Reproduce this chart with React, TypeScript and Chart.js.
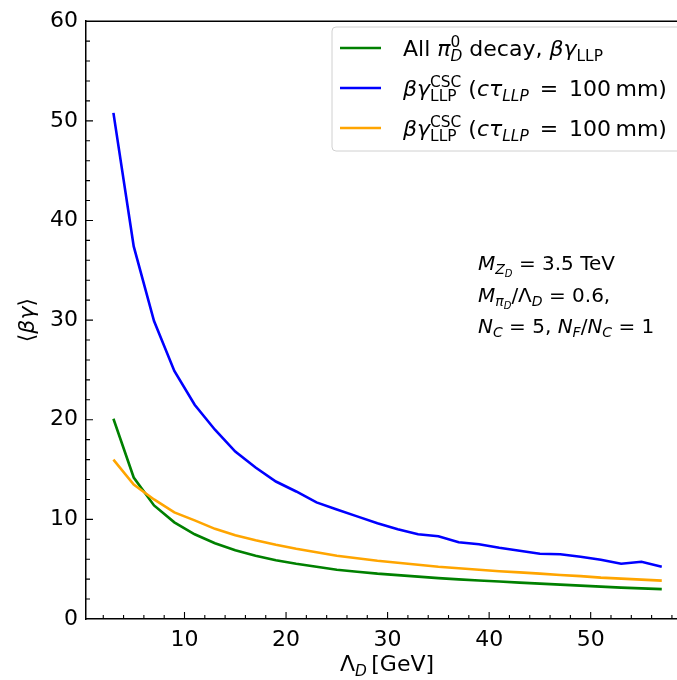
import React, { useEffect, useRef } from "react";
import { Chart, registerables } from "chart.js";

Chart.register(...registerables);

const LAMBDA_D = [3, 5, 7, 9, 11, 13, 15, 17, 19, 21, 23, 25, 27, 29, 31, 33, 35, 37, 39, 41, 43, 45, 47, 49, 51, 53, 55, 57];
const ALL_DECAY = [20.1, 14.2, 11.4, 9.7, 8.5, 7.6, 6.9, 6.35, 5.9, 5.55, 5.25, 4.95, 4.75, 4.55, 4.4, 4.25, 4.1, 3.98, 3.87, 3.77, 3.65, 3.55, 3.45, 3.35, 3.25, 3.15, 3.07, 3.0];
const CSC_BLUE = [50.8, 37.4, 29.9, 24.9, 21.5, 19.0, 16.8, 15.2, 13.8, 12.8, 11.7, 11.0, 10.3, 9.6, 9.0, 8.5, 8.3, 7.7, 7.5, 7.15, 6.85, 6.55, 6.5, 6.25, 5.95, 5.55, 5.75, 5.25];
const CSC_ORANGE = [16.0, 13.5, 12.0, 10.7, 9.9, 9.05, 8.4, 7.9, 7.45, 7.05, 6.7, 6.35, 6.1, 5.85, 5.65, 5.45, 5.25, 5.1, 4.95, 4.8, 4.68, 4.55, 4.42, 4.3, 4.15, 4.05, 3.95, 3.85];
const X_TICKS = [10, 20, 30, 40, 50];
const Y_TICKS = [0, 10, 20, 30, 40, 50, 60];

const FONT = "'DejaVu Sans'";

type Seg = { t: string; i?: boolean; l?: number; s?: boolean };

function segSize(base: number, l: number) {
  if (l === 0) return base;
  if (Math.abs(l) === 1) return base * 0.7;
  return base * 0.5;
}
function segDy(base: number, l: number) {
  if (l === 0) return 0;
  if (l === -1) return base * 0.22;
  if (l === 1) return -base * 0.42;
  return base * 0.36;
}

function layoutRich(ctx: CanvasRenderingContext2D, segs: Seg[], base: number) {
  let x = 0;
  let prevStart = 0;
  let prevEnd = 0;
  const out: { seg: Seg; x: number }[] = [];
  for (const seg of segs) {
    const l = seg.l ?? 0;
    ctx.font = `${seg.i ? "italic " : ""}${segSize(base, l)}px ${FONT}`;
    const w = ctx.measureText(seg.t).width;
    if (seg.s) {
      out.push({ seg, x: prevStart });
      x = Math.max(prevEnd, prevStart + w);
      prevEnd = x;
    } else {
      out.push({ seg, x });
      prevStart = x;
      x += w;
      prevEnd = x;
    }
  }
  return { items: out, width: x };
}

function drawRich(ctx: CanvasRenderingContext2D, segs: Seg[], x: number, y: number, base: number, align: "left" | "center" = "left") {
  const { items, width } = layoutRich(ctx, segs, base);
  const x0 = align === "center" ? x - width / 2 : x;
  ctx.save();
  ctx.fillStyle = "#000";
  ctx.textBaseline = "alphabetic";
  ctx.textAlign = "left";
  for (const it of items) {
    const l = it.seg.l ?? 0;
    ctx.font = `${it.seg.i ? "italic " : ""}${segSize(base, l)}px ${FONT}`;
    ctx.fillText(it.seg.t, x0 + it.x, y + segDy(base, l));
  }
  ctx.restore();
}

const LEGEND_ITEMS: { color: string; segs: Seg[] }[] = [
  {
    color: "green",
    segs: [
      { t: "All " },
      { t: "π", i: true },
      { t: "D", i: true, l: -1 },
      { t: "0", l: 1, s: true },
      { t: " decay, " },
      { t: "βγ", i: true },
      { t: "LLP", l: -1 },
    ],
  },
  {
    color: "blue",
    segs: [
      { t: "βγ", i: true },
      { t: "LLP", l: -1 },
      { t: "CSC", l: 1, s: true },
      { t: " (" },
      { t: "cτ", i: true },
      { t: "LLP", i: true, l: -1 },
      { t: "\u2002=\u2002100\u2009mm)" },
    ],
  },
  {
    color: "orange",
    segs: [
      { t: "βγ", i: true },
      { t: "LLP", l: -1 },
      { t: "CSC", l: 1, s: true },
      { t: " (" },
      { t: "cτ", i: true },
      { t: "LLP", i: true, l: -1 },
      { t: "\u2002=\u2002100\u2009mm)" },
    ],
  },
];

const ANNOT_LINES: Seg[][] = [
  [{ t: "M", i: true }, { t: "Z", i: true, l: -1 }, { t: "D", i: true, l: -2 }, { t: " = 3.5 TeV" }],
  [{ t: "M", i: true }, { t: "π", i: true, l: -1 }, { t: "D", i: true, l: -2 }, { t: "/Λ" }, { t: "D", i: true, l: -1 }, { t: " = 0.6," }],
  [
    { t: "N", i: true },
    { t: "C", i: true, l: -1 },
    { t: " = 5, " },
    { t: "N", i: true },
    { t: "F", i: true, l: -1 },
    { t: "/" },
    { t: "N", i: true },
    { t: "C", i: true, l: -1 },
    { t: " = 1" },
  ],
];

const decorPlugin = {
  id: "decor",
  afterDraw(chart: any) {
    const ctx: CanvasRenderingContext2D = chart.ctx;
    const area = chart.chartArea;
    const xs = chart.scales.x;
    const ys = chart.scales.y;
    ctx.save();
    // top spine
    ctx.strokeStyle = "#000";
    ctx.lineWidth = 1.5;
    ctx.beginPath();
    ctx.moveTo(area.left, area.top);
    ctx.lineTo(chart.width, area.top);
    ctx.stroke();
    // inward ticks
    ctx.lineWidth = 1.1;
    ctx.beginPath();
    for (let v = 2; v <= 58; v += 2) {
      const px = xs.getPixelForValue(v);
      if (px < area.left || px > area.right) continue;
      const len = v % 10 === 0 ? 7 : 4;
      ctx.moveTo(px, area.bottom);
      ctx.lineTo(px, area.bottom - len);
    }
    for (let v = 2; v < 60; v += 2) {
      const py = ys.getPixelForValue(v);
      const len = v % 10 === 0 ? 7 : 4;
      ctx.moveTo(area.left, py);
      ctx.lineTo(area.left + len, py);
    }
    ctx.stroke();

    // axis titles
    drawRich(ctx, [{ t: "Λ" }, { t: "D", i: true, l: -1 }, { t: "\u2009[GeV]" }], 387, 671, 22, "center");
    ctx.save();
    ctx.translate(34, (area.top + area.bottom) / 2);
    ctx.rotate(-Math.PI / 2);
    drawRich(ctx, [{ t: "⟨" }, { t: "βγ", i: true }, { t: "⟩" }], 0, 0, 22, "center");
    ctx.restore();

    // legend
    const lx = 332;
    const ly = 27;
    const lw = 360;
    const lh = 124;
    ctx.fillStyle = "rgba(255,255,255,0.85)";
    ctx.strokeStyle = "#d0d0d0";
    ctx.lineWidth = 1;
    ctx.beginPath();
    const r = 4;
    ctx.moveTo(lx + r, ly);
    ctx.lineTo(lx + lw - r, ly);
    ctx.arcTo(lx + lw, ly, lx + lw, ly + r, r);
    ctx.lineTo(lx + lw, ly + lh - r);
    ctx.arcTo(lx + lw, ly + lh, lx + lw - r, ly + lh, r);
    ctx.lineTo(lx + r, ly + lh);
    ctx.arcTo(lx, ly + lh, lx, ly + lh - r, r);
    ctx.lineTo(lx, ly + r);
    ctx.arcTo(lx, ly, lx + r, ly, r);
    ctx.closePath();
    ctx.fill();
    ctx.stroke();
    LEGEND_ITEMS.forEach((item, k) => {
      const cy = 48 + k * 40;
      ctx.strokeStyle = item.color;
      ctx.lineWidth = 2.5;
      ctx.beginPath();
      ctx.moveTo(340, cy);
      ctx.lineTo(381, cy);
      ctx.stroke();
      drawRich(ctx, item.segs, 403, cy + 8, 22);
    });

    // annotation
    ANNOT_LINES.forEach((line, k) => {
      drawRich(ctx, line, 478, 270 + k * 31.5, 20);
    });
    ctx.restore();
  },
};

export default function App() {
  const ref = useRef<HTMLCanvasElement | null>(null);
  useEffect(() => {
    if (!ref.current) return;
    const mk = (vals: number[]) => LAMBDA_D.map((x, i) => ({ x, y: vals[i] }));
    const chart = new Chart(ref.current, {
      type: "line",
      data: {
        datasets: [
          { label: "All decay", data: mk(ALL_DECAY), borderColor: "green", borderWidth: 2.6, pointRadius: 0, tension: 0, order: 3 },
          { label: "CSC blue", data: mk(CSC_BLUE), borderColor: "blue", borderWidth: 2.6, pointRadius: 0, tension: 0, order: 2 },
          { label: "CSC orange", data: mk(CSC_ORANGE), borderColor: "orange", borderWidth: 2.6, pointRadius: 0, tension: 0, order: 1 },
        ],
      },
      options: {
        animation: false,
        responsive: false,
        layout: { padding: { left: 0, top: 15, right: 0, bottom: 0 } },
        plugins: { legend: { display: false }, tooltip: { enabled: false } },
        scales: {
          x: {
            type: "linear",
            min: 0.3,
            max: 58.5,
            grid: { display: false, drawTicks: false },
            border: { display: true, color: "#000", width: 1.5 },
            afterBuildTicks: (scale: any) => {
              scale.ticks = X_TICKS.map((v) => ({ value: v }));
            },
            afterFit: (scale: any) => {
              scale.height = 61;
            },
            ticks: { color: "#000", font: { family: FONT, size: 22 }, padding: 8, maxRotation: 0, autoSkip: false },
          },
          y: {
            type: "linear",
            min: 0,
            max: 60,
            grid: { display: false, drawTicks: false },
            border: { display: true, color: "#000", width: 1.5 },
            afterBuildTicks: (scale: any) => {
              scale.ticks = Y_TICKS.map((v) => ({ value: v }));
            },
            afterFit: (scale: any) => {
              scale.width = 86;
            },
            ticks: { color: "#000", font: { family: FONT, size: 22 }, padding: 8, autoSkip: false },
          },
        },
      },
      plugins: [decorPlugin],
    } as any);
    return () => chart.destroy();
  }, []);
  return (
    <div style={{ position: "absolute", left: 0, top: 0, width: 677, height: 680, overflow: "hidden", background: "#fff" }}>
      <canvas ref={ref} width={677} height={680} style={{ display: "block" }} />
    </div>
  );
}
